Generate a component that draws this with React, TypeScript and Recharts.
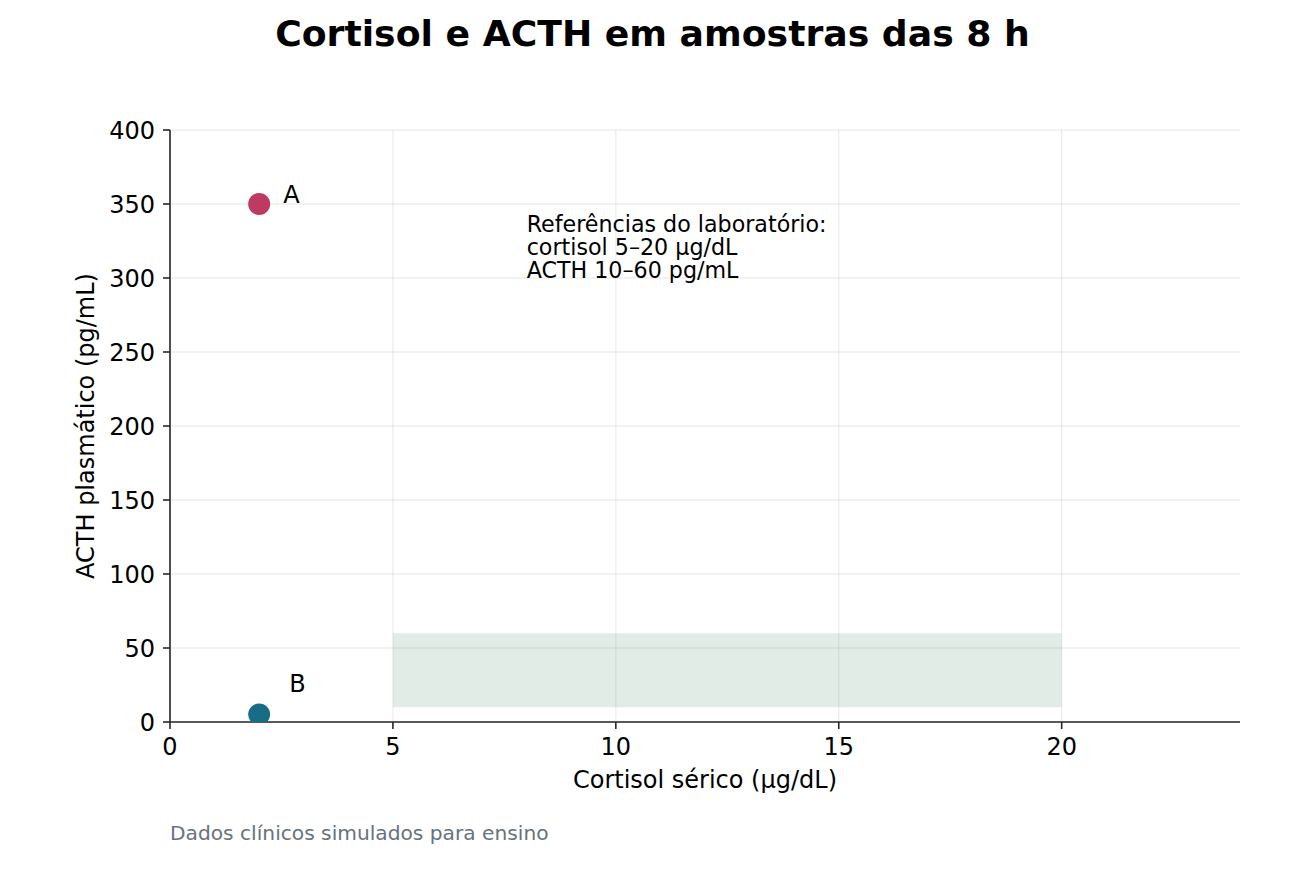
import React from 'react';
import {
  ScatterChart,
  Scatter,
  XAxis,
  YAxis,
  CartesianGrid,
  ReferenceArea,
  ReferenceDot,
} from 'recharts';

const sampleA = [{ x: 2, y: 350, name: 'A' }];
const sampleB = [{ x: 2, y: 5, name: 'B' }];
const xTicks = [0, 5, 10, 15, 20];
const yTicks = [0, 50, 100, 150, 200, 250, 300, 350, 400];
const cortisolRange = [5, 20];
const acthRange = [10, 60];
const noteLines = ['Referências do laboratório:', 'cortisol 5–20 µg/dL', 'ACTH 10–60 pg/mL'];
const notePos = { x: 8, y: 335 };

const FONT = '"DejaVu Sans", sans-serif';
const AXIS = '#262626';

const makeShape = (fill: string, dx: number, dy: number) => (props: any) => {
  const { cx, cy, payload } = props;
  return (
    <g>
      <circle cx={cx} cy={cy} r={11} fill={fill} />
      <text x={cx + dx} y={cy + dy} fontSize={24} fontFamily={FONT} fill="#000">
        {payload.name}
      </text>
    </g>
  );
};

const NoteShape = (props: any) => {
  const { cx, cy } = props;
  return (
    <text x={cx} fontSize={22.2} fontFamily={FONT} fill="#000">
      {noteLines.map((l, i) => (
        <tspan key={i} x={cx} y={cy + 6 + i * 23}>
          {l}
        </tspan>
      ))}
    </text>
  );
};

const YLabel = (props: any) => {
  const vb = props.viewBox || {};
  const x = vb.x + 24;
  const y = vb.y + vb.height / 2;
  return (
    <text
      x={x}
      y={y}
      transform={`rotate(-90, ${x}, ${y})`}
      textAnchor="middle"
      fontSize={24}
      fontFamily={FONT}
      fill="#000"
    >
      ACTH plasmático (pg/mL)
    </text>
  );
};

const XLabel = (props: any) => {
  const vb = props.viewBox || {};
  const x = vb.x + vb.width / 2;
  const y = vb.y + 66;
  return (
    <text x={x} y={y} textAnchor="middle" fontSize={24} fontFamily={FONT} fill="#000">
      Cortisol sérico (µg/dL)
    </text>
  );
};

export default function App() {
  return (
    <div
      style={{
        position: 'absolute',
        left: 0,
        top: 0,
        width: 1305,
        height: 870,
        background: '#fff',
        fontFamily: FONT,
      }}
    >
      <div
        style={{
          position: 'absolute',
          left: 0,
          width: 1305,
          top: 12,
          textAlign: 'center',
          fontSize: 36.2,
          fontWeight: 'bold',
          lineHeight: '44px',
          color: '#000',
        }}
      >
        Cortisol e ACTH em amostras das 8 h
      </div>
      <div
        style={{
          position: 'absolute',
          left: 170,
          top: 820,
          fontSize: 20.2,
          lineHeight: '26px',
          color: '#68727d',
        }}
      >
        Dados clínicos simulados para ensino
      </div>
      <div style={{ position: 'absolute', left: 0, top: 0 }}>
        <ScatterChart
          width={1305}
          height={870}
          margin={{ top: 130, right: 65, bottom: 88, left: 70 }}
        >
          <CartesianGrid
            stroke="#000"
            strokeOpacity={0.07}
            strokeWidth={1.3}
            verticalValues={xTicks}
            horizontalValues={yTicks}
          />
          <ReferenceArea
            x1={cortisolRange[0]}
            x2={cortisolRange[1]}
            y1={acthRange[0]}
            y2={acthRange[1]}
            fill="#6a9f85"
            fillOpacity={0.2}
            stroke="none"
            ifOverflow="visible"
          />
          <XAxis
            type="number"
            dataKey="x"
            domain={[0, 24]}
            ticks={xTicks}
            height={60}
            allowDataOverflow
            tickSize={7}
            tickMargin={9}
            axisLine={{ stroke: AXIS, strokeWidth: 1.6 }}
            tickLine={{ stroke: AXIS, strokeWidth: 1.6 }}
            tick={{ fontSize: 24, fontFamily: FONT, fill: '#000' }}
            label={{ content: XLabel }}
          />
          <YAxis
            type="number"
            dataKey="y"
            domain={[0, 400]}
            ticks={yTicks}
            width={100}
            allowDataOverflow
            tickSize={7}
            tickMargin={8}
            axisLine={{ stroke: AXIS, strokeWidth: 1.6 }}
            tickLine={{ stroke: AXIS, strokeWidth: 1.6 }}
            tick={{ fontSize: 24, fontFamily: FONT, fill: '#000' }}
            label={{ content: YLabel }}
          />
          <ReferenceDot
            x={notePos.x}
            y={notePos.y}
            r={0}
            ifOverflow="visible"
            shape={NoteShape}
          />
          <Scatter
            data={sampleA}
            fill="#bf3a61"
            isAnimationActive={false}
            shape={makeShape('#bf3a61', 24, -1)}
          />
          <Scatter
            data={sampleB}
            fill="#186c86"
            isAnimationActive={false}
            shape={makeShape('#186c86', 30, -23)}
          />
        </ScatterChart>
      </div>
    </div>
  );
}
